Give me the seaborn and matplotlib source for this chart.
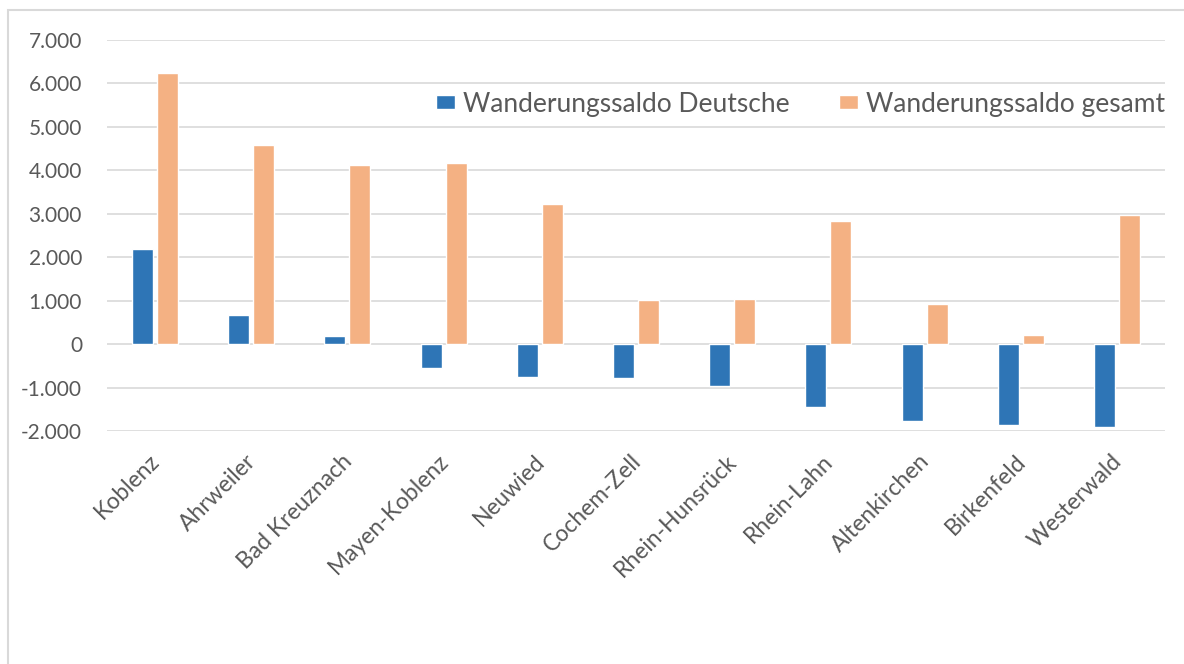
import matplotlib
matplotlib.use("Agg")
import matplotlib.pyplot as plt
import matplotlib.ticker as mticker
import matplotlib.transforms as mtrans
from matplotlib.patches import Rectangle
import seaborn as sns
import pandas as pd

kreise = ["Koblenz", "Ahrweiler", "Bad Kreuznach", "Mayen-Koblenz", "Neuwied",
          "Cochem-Zell", "Rhein-Hunsrück", "Rhein-Lahn", "Altenkirchen",
          "Birkenfeld", "Westerwald"]
saldo_deutsche = [2200, 670, 180, -550, -760, -780, -970, -1450, -1770, -1870, -1910]
saldo_gesamt = [6250, 4590, 4120, 4170, 3220, 1010, 1040, 2830, 920, 210, 2970]
serien = ["Wanderungssaldo Deutsche", "Wanderungssaldo gesamt"]
farben = ["#2E75B6", "#F4B183"]

df = pd.DataFrame({
    "Kreis": kreise * 2,
    "Wert": saldo_deutsche + saldo_gesamt,
    "Serie": [serien[0]] * len(kreise) + [serien[1]] * len(kreise),
})

sns.set_theme(style="white")
plt.rcParams["font.family"] = ["Lato", "DejaVu Sans"]
grau = "#595959"

fig = plt.figure(figsize=(11.84, 6.64), dpi=100)
ax = fig.add_axes([107 / 1184, 1 - 431 / 664, (1165 - 107) / 1184, (431 - 40) / 664])

# heller Rahmen um das Diagramm
fig.patches.append(Rectangle((8 / 1184, -0.05), 1.1, 1.05 - 10 / 664,
                             transform=fig.transFigure, fill=False,
                             edgecolor="#D9D9D9", linewidth=1.5))

sns.barplot(data=df, x="Kreis", y="Wert", hue="Serie", palette=farben,
            width=0.52, gap=0.16, ax=ax, zorder=3, saturation=1)

ax.set_ylim(-2000, 7000)
ax.set_yticks(range(-2000, 7001, 1000))
ax.yaxis.set_major_formatter(mticker.FuncFormatter(
    lambda v, p: f"{int(v):,}".replace(",", ".")))
ax.grid(axis="y", color="#D9D9D9", linewidth=1.2, zorder=0)
ax.set_axisbelow(True)
for s in ax.spines.values():
    s.set_visible(False)
ax.set_xlabel("")
ax.set_ylabel("")
ax.tick_params(axis="both", length=0, labelcolor=grau)
ax.tick_params(axis="y", pad=18, labelsize=15)
ax.tick_params(axis="x", pad=14, labelsize=16.5)
versatz = mtrans.ScaledTranslation(-6 / 100, 0, fig.dpi_scale_trans)
for lab in ax.get_xticklabels():
    lab.set_rotation(45)
    lab.set_ha("right")
    lab.set_rotation_mode("anchor")
    lab.set_transform(lab.get_transform() + versatz)

leg = ax.legend(loc="center right", bbox_to_anchor=(1.0, 0.836), ncol=2,
                frameon=False, fontsize=19, handlelength=0.7, handleheight=0.45,
                handletextpad=0.3, columnspacing=1.9, borderaxespad=0,
                borderpad=0)
for t in leg.get_texts():
    t.set_color(grau)

fig.savefig("out.png", dpi=100)
